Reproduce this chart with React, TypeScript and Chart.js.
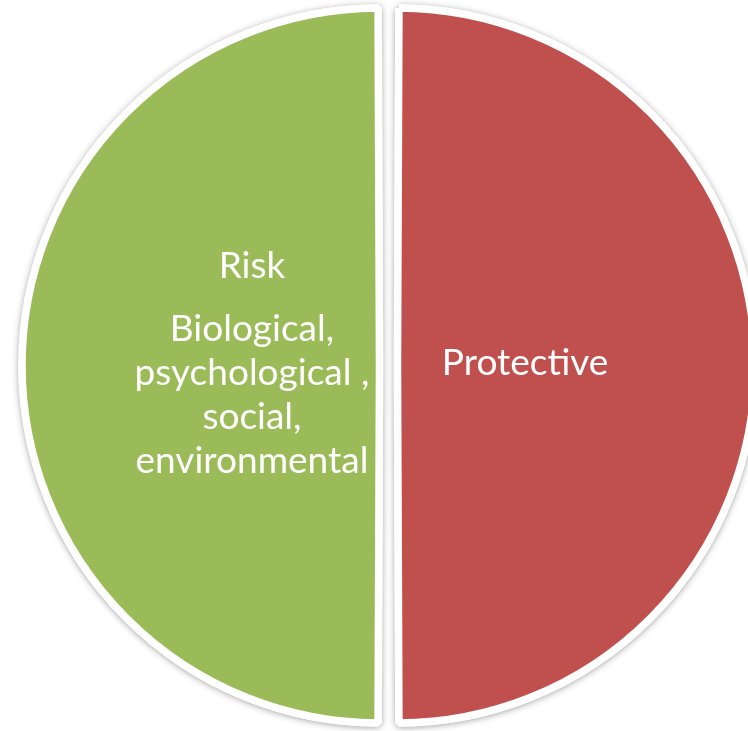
import React, { useEffect, useRef } from 'react';
import { Chart, registerables } from 'chart.js';

Chart.register(...registerables);

const categories = ['Risk', 'Protective'];
const values = [50, 50];
const riskFactors = ['Biological,', 'psychological ,', 'social,', 'environmental'];
const protectiveFactors: string[] = [];
const sliceColors = ['#9BBB59', '#C0504D'];

export default function App() {
  const ref = useRef<HTMLCanvasElement>(null);

  useEffect(() => {
    const canvas = ref.current!;
    const subLines = [riskFactors, protectiveFactors];
    const OFFSET = 36; // Chart.js translates a slice by offset/4

    const shadowPlugin = {
      id: 'sliceShadow',
      beforeDatasetsDraw(chart: any) {
        const ctx = chart.ctx;
        const meta = chart.getDatasetMeta(0);
        ctx.save();
        ctx.shadowColor = 'rgba(0,0,0,0.3)';
        ctx.shadowBlur = 7;
        ctx.shadowOffsetX = 0;
        ctx.shadowOffsetY = 1;
        meta.data.forEach((a: any) => a.draw(ctx));
        ctx.restore();
      },
    };

    const labelPlugin = {
      id: 'sliceLabels',
      afterDatasetsDraw(chart: any) {
        const ctx = chart.ctx;
        const meta = chart.getDatasetMeta(0);
        ctx.save();
        ctx.fillStyle = '#ffffff';
        ctx.textAlign = 'center';
        ctx.textBaseline = 'alphabetic';
        ctx.font = '37px Lato';
        try {
          (ctx as any).textRendering = 'optimizeLegibility';
          (ctx as any).fontVariantCaps = 'normal';
        } catch (e) {}
        meta.data.forEach((arc: any, i: number) => {
          const { x, y, startAngle, endAngle, outerRadius } = arc.getProps(
            ['x', 'y', 'startAngle', 'endAngle', 'outerRadius'],
            true
          );
          const mid = (startAngle + endAngle) / 2;
          const cx = x + Math.cos(mid) * (OFFSET / 4 + outerRadius * 0.366);
          const lines = [categories[i], ...subLines[i]];
          const baselines: number[] = [];
          let b = 0;
          lines.forEach((_, k) => {
            if (k === 1) b += 63;
            else if (k > 1) b += 44;
            baselines.push(b);
          });
          const shift = y + 9.5 - (baselines[0] + baselines[baselines.length - 1]) / 2;
          lines.forEach((t, k) => ctx.fillText(t, cx, baselines[k] + shift));
        });
        ctx.restore();
      },
    };

    const chart = new Chart(canvas, {
      type: 'pie',
      data: {
        labels: categories,
        datasets: [
          {
            data: values,
            backgroundColor: sliceColors,
            borderColor: '#ffffff',
            borderWidth: 7.5,
            offset: OFFSET,
            hoverOffset: 0,
          },
        ],
      },
      options: {
        animation: false,
        responsive: false,
        events: [],
        radius: 348.5,
        rotation: 180,
        layout: { padding: 0 },
        plugins: {
          legend: { display: false },
          tooltip: { enabled: false },
        },
      } as any,
      plugins: [shadowPlugin, labelPlugin],
    });

    return () => chart.destroy();
  }, []);

  return (
    <div
      style={{
        position: 'fixed',
        left: 0,
        top: 0,
        width: 748,
        height: 731,
        overflow: 'hidden',
        background: '#ffffff',
      }}
    >
      <canvas ref={ref} width={777} height={731} style={{ display: 'block' }} />
    </div>
  );
}
